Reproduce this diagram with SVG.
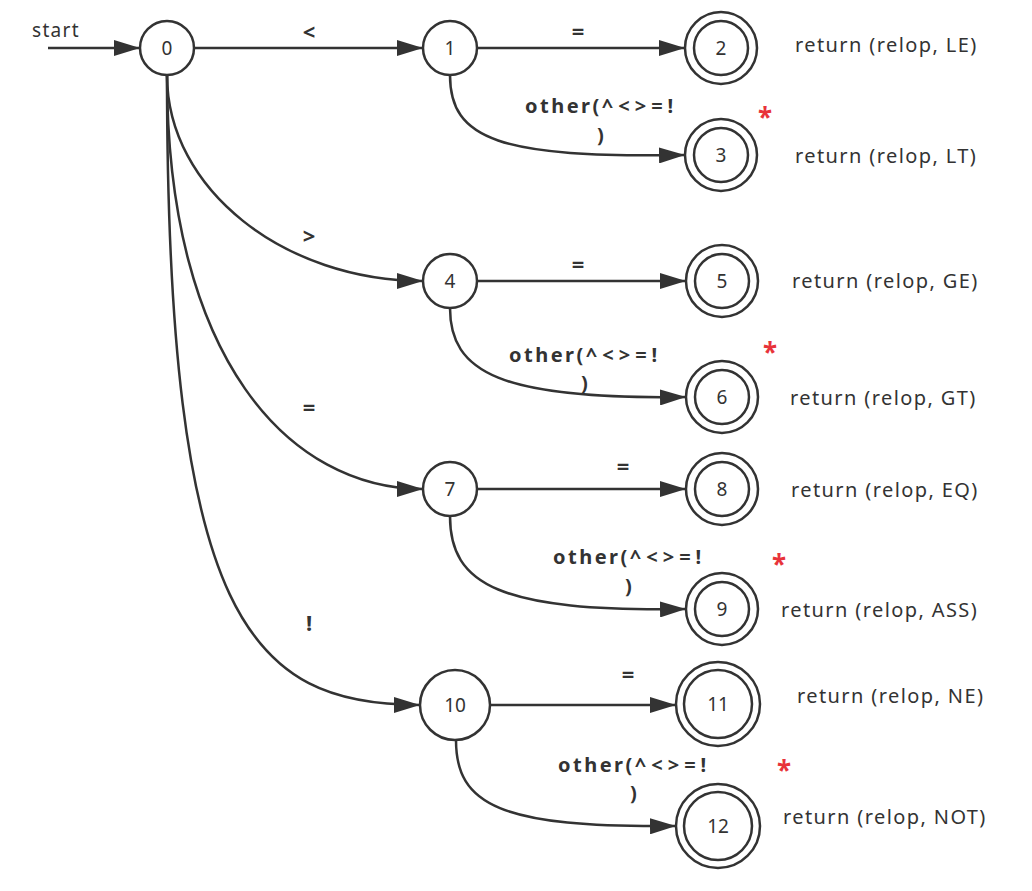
<svg xmlns="http://www.w3.org/2000/svg" width="1032" height="891" viewBox="0 0 1032 891">
<defs>
<style>
.n{fill:#fff;stroke:#333;stroke-width:2.5}
.e{fill:none;stroke:#333;stroke-width:2.5}
.t{font-family:"Noto Sans","Open Sans","DejaVu Sans",sans-serif;font-size:20px;fill:#333;letter-spacing:1.4px}
.st{font-family:"Noto Sans","Open Sans","DejaVu Sans",sans-serif;font-size:19px;fill:#333;letter-spacing:1.3px}
.nl{font-family:"Noto Sans","Open Sans","DejaVu Sans",sans-serif;font-size:19px;fill:#333;text-anchor:middle}
.b{font-family:"Noto Sans","Open Sans","DejaVu Sans",sans-serif;font-size:20px;font-weight:bold;fill:#333;letter-spacing:2.5px}
.sym{letter-spacing:5px}
.bc{font-family:"Noto Sans","Open Sans","DejaVu Sans",sans-serif;font-size:22px;font-weight:bold;fill:#333;text-anchor:middle}
.s{font-family:"Noto Sans","DejaVu Sans",sans-serif;font-size:26px;font-weight:bold;fill:#e8333a;text-anchor:middle}
</style>
<marker id="a" viewBox="0 0 10 10" refX="10" refY="5" markerWidth="26" markerHeight="16" markerUnits="userSpaceOnUse" orient="auto" preserveAspectRatio="none">
<path d="M0,0 L10,5 L0,10 z" fill="#333"/>
</marker>
</defs>
<rect width="1032" height="891" fill="#fff"/>
<g id="connectors">
<path class="e" d="M48,48 H140" marker-end="url(#a)"/>
<path class="e" d="M194,48 H423" marker-end="url(#a)"/>
<path class="e" d="M167,75 C167,190 285,281 423,281" marker-end="url(#a)"/>
<path class="e" d="M167,75 C167,360 290,489 423,489" marker-end="url(#a)"/>
<path class="e" d="M167,75 C167,620 250,705 420,705" marker-end="url(#a)"/>
<path class="e" d="M477,48 H685" marker-end="url(#a)"/>
<path class="e" d="M450,75 C450,140 500,158 685,155" marker-end="url(#a)"/>
<path class="e" d="M477,281 H686" marker-end="url(#a)"/>
<path class="e" d="M450,308 C450,372 500,400 686,397" marker-end="url(#a)"/>
<path class="e" d="M477,489 H686" marker-end="url(#a)"/>
<path class="e" d="M450,516 C450,585 500,612 686,609" marker-end="url(#a)"/>
<path class="e" d="M490,705 H676" marker-end="url(#a)"/>
<path class="e" d="M456,740 C456,805 500,828 676,826" marker-end="url(#a)"/>
</g>
<g id="edge-labels">
<text class="st" x="32" y="37">start</text>
<text class="bc" x="309" y="40">&lt;</text>
<text class="bc" x="578" y="39">=</text>
<text class="bc" x="309" y="244">&gt;</text>
<text class="bc" x="578" y="272">=</text>
<text class="bc" x="309" y="415">=</text>
<text class="bc" x="623" y="474">=</text>
<text class="bc" x="309" y="631">!</text>
<text class="bc" x="628" y="682">=</text>
<text class="b" x="525" y="113">other(<tspan class="sym">^&lt;&gt;=!</tspan></text>
<text class="b" x="597" y="142">)</text>
<text class="b" x="509" y="362">other(<tspan class="sym">^&lt;&gt;=!</tspan></text>
<text class="b" x="581" y="390">)</text>
<text class="b" x="553" y="564">other(<tspan class="sym">^&lt;&gt;=!</tspan></text>
<text class="b" x="625" y="593">)</text>
<text class="b" x="558" y="772">other(<tspan class="sym">^&lt;&gt;=!</tspan></text>
<text class="b" x="630" y="800">)</text>
</g>
<g id="n0"><circle class="n" cx="167" cy="48" r="27"/><text class="nl" x="167" y="55">0</text></g>
<g id="n1"><circle class="n" cx="450" cy="48" r="27"/><text class="nl" x="450" y="55">1</text></g>
<g id="n2"><circle class="n" cx="721" cy="48" r="36"/><circle class="n" cx="721" cy="48" r="27"/><text class="nl" x="721" y="55">2</text><text class="t" x="795" y="52">return (relop, LE)</text></g>
<g id="n3"><circle class="n" cx="721" cy="155" r="36"/><circle class="n" cx="721" cy="155" r="27"/><text class="nl" x="721" y="162">3</text><text class="t" x="795" y="163">return (relop, LT)</text><text class="s" x="765" y="127">*</text></g>
<g id="n4"><circle class="n" cx="450" cy="281" r="27"/><text class="nl" x="450" y="288">4</text></g>
<g id="n5"><circle class="n" cx="722" cy="281" r="36"/><circle class="n" cx="722" cy="281" r="27"/><text class="nl" x="722" y="288">5</text><text class="t" x="792" y="288">return (relop, GE)</text></g>
<g id="n6"><circle class="n" cx="722" cy="397" r="36"/><circle class="n" cx="722" cy="397" r="27"/><text class="nl" x="722" y="404">6</text><text class="t" x="790" y="405">return (relop, GT)</text><text class="s" x="770" y="362">*</text></g>
<g id="n7"><circle class="n" cx="450" cy="489" r="27"/><text class="nl" x="450" y="496">7</text></g>
<g id="n8"><circle class="n" cx="722" cy="489" r="36"/><circle class="n" cx="722" cy="489" r="27"/><text class="nl" x="722" y="496">8</text><text class="t" x="791" y="497">return (relop, EQ)</text></g>
<g id="n9"><circle class="n" cx="722" cy="609" r="36"/><circle class="n" cx="722" cy="609" r="27"/><text class="nl" x="722" y="616">9</text><text class="t" x="781" y="617">return (relop, ASS)</text><text class="s" x="779" y="574">*</text></g>
<g id="n10"><circle class="n" cx="455" cy="705" r="35"/><text class="nl" x="455" y="712">10</text></g>
<g id="n11"><circle class="n" cx="718" cy="704" r="42"/><circle class="n" cx="718" cy="704" r="34"/><text class="nl" x="718" y="711">11</text><text class="t" x="797" y="703">return (relop, NE)</text></g>
<g id="n12"><circle class="n" cx="718" cy="826" r="42"/><circle class="n" cx="718" cy="826" r="34"/><text class="nl" x="718" y="833">12</text><text class="t" x="783" y="824">return (relop, NOT)</text><text class="s" x="784" y="780">*</text></g>
</svg>
